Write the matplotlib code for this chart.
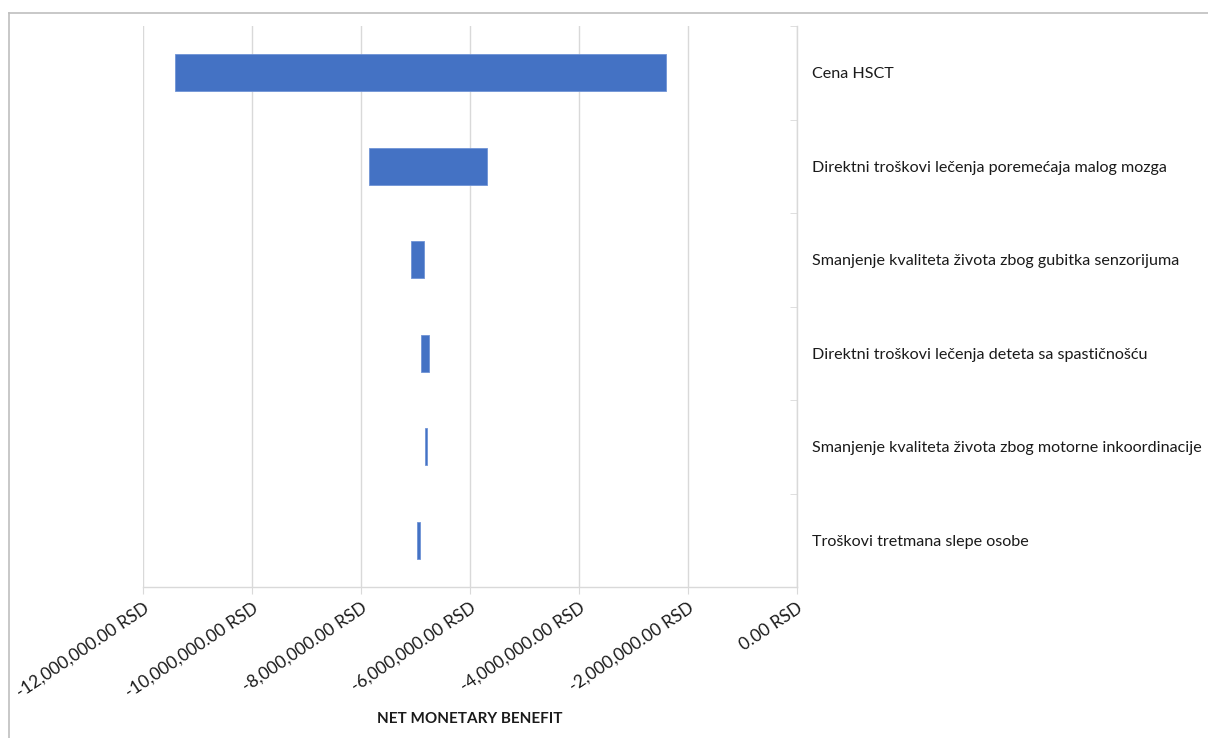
import matplotlib.pyplot as plt
from matplotlib.lines import Line2D
from matplotlib.ticker import FuncFormatter, MultipleLocator

plt.rcParams['font.family'] = ['Lato', 'DejaVu Sans']

# parametri (odozgo nadole) i opseg NMB-a u RSD
parametri = [
    'Cena HSCT',
    'Direktni troškovi lečenja poremećaja malog mozga',
    'Smanjenje kvaliteta života zbog gubitka senzorijuma',
    'Direktni troškovi lečenja deteta sa spastičnošću',
    'Smanjenje kvaliteta života zbog motorne inkoordinacije',
    'Troškovi tretmana slepe osobe',
]
nmb_min = [-11410000, -7850000, -7080000, -6890000, -6830000, -6980000]
nmb_max = [-2400000, -5690000, -6840000, -6750000, -6790000, -6920000]

fig = plt.figure(figsize=(12.08, 7.38), dpi=100)
ax = fig.add_axes([143 / 1208, 1 - 587 / 738, (797 - 143) / 1208, (587 - 26) / 738])

y = list(range(len(parametri)))
sirina = [hi - lo for lo, hi in zip(nmb_min, nmb_max)]
ax.barh(y, sirina, left=nmb_min, height=0.4, color='#4472C4',
        edgecolor='#6f93d6', linewidth=0.6, zorder=3)

ax.set_xlim(-12000000, 0)
ax.set_ylim(len(parametri) - 0.5, -0.5)

# x osa
ax.xaxis.set_major_locator(MultipleLocator(2000000))
ax.xaxis.set_major_formatter(FuncFormatter(lambda v, p: f'{v:,.2f} RSD'))
ax.grid(axis='x', color='#d9d9d9', linewidth=1, zorder=0)
ax.tick_params(axis='x', direction='out', length=5, color='#d9d9d9',
               labelsize=12.5, labelcolor='#1a1a1a', pad=4)
plt.setp(ax.get_xticklabels(), rotation=34, ha='right', va='top',
         rotation_mode='anchor')
ax.set_xlabel('NET MONETARY BENEFIT', fontsize=11, fontweight='bold',
              color='#1a1a1a')
ax.xaxis.set_label_coords(0.5, -0.222)

# y osa desno
ax.yaxis.tick_right()
ax.set_yticks(y)
ax.set_yticklabels(parametri)
ax.set_yticks([i - 0.5 for i in range(len(parametri) + 1)], minor=True)
ax.tick_params(axis='y', which='major', length=0, pad=11,
               labelsize=11.6, labelcolor='#1a1a1a')
ax.tick_params(axis='y', which='minor', direction='in', length=5,
               color='#d9d9d9', right=True, left=False)

for s in ['top', 'left']:
    ax.spines[s].set_visible(False)
for s in ['right', 'bottom']:
    ax.spines[s].set_color('#d9d9d9')
    ax.spines[s].set_linewidth(1)

# okvir grafikona
fig.add_artist(Line2D([9 / 1208, 1], [1 - 13 / 738, 1 - 13 / 738],
                      color='#bfbfbf', linewidth=1.2))
fig.add_artist(Line2D([9 / 1208, 9 / 1208], [0, 1 - 13 / 738],
                      color='#bfbfbf', linewidth=1.2))

fig.savefig('out.png', dpi=100)
